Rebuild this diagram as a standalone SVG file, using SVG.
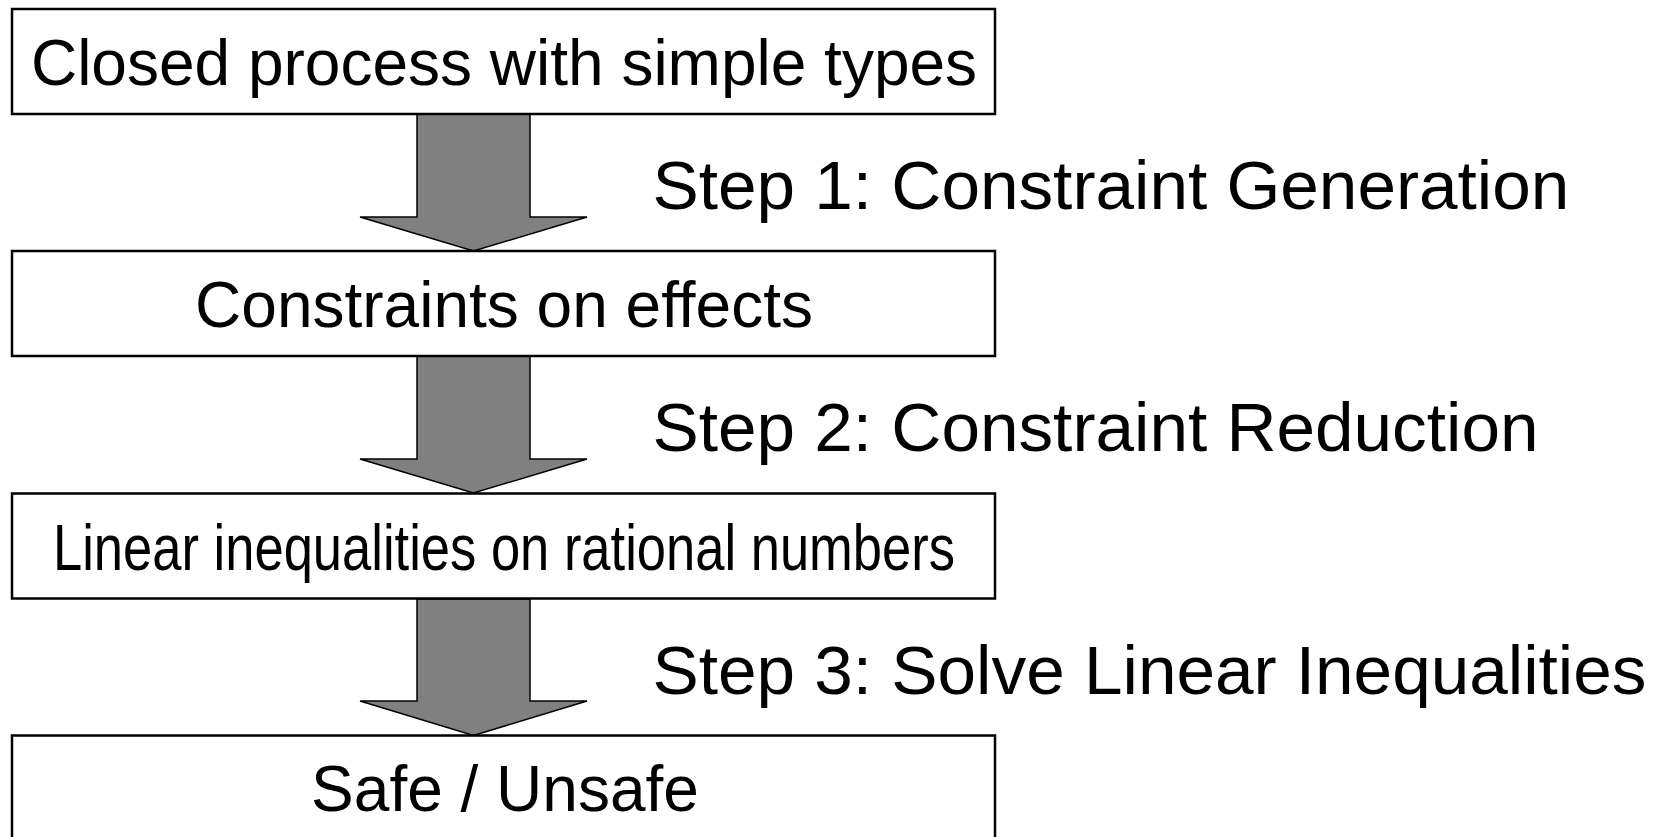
<svg xmlns="http://www.w3.org/2000/svg" width="1658" height="837" viewBox="0 0 1658 837">
<style>
.box{fill:#fff;stroke:#000;stroke-width:2.5}
.arr{fill:#808080;stroke:#000;stroke-width:1.5;stroke-linejoin:miter}
.t{font-family:"Liberation Sans",Arial,sans-serif;font-size:64px;fill:#000;text-anchor:middle}
.s{font-family:"Liberation Sans",Arial,sans-serif;font-size:69.3px;fill:#000}
</style>
<rect width="1658" height="837" fill="#fff"/>
<g id="connectors">
<polygon class="arr" points="417,114 530,114 530,217 587,217 473.5,251 360,217 417,217"/>
<polygon class="arr" points="417,356 530,356 530,459 587,459 473.5,493 360,459 417,459"/>
<polygon class="arr" points="417,599 530,599 530,701 587,701 473.5,735.5 360,701 417,701"/>
</g>
<g id="node1">
<rect class="box" x="12" y="9" width="983" height="105"/>
<text class="t" x="504" y="84.5">Closed process with simple types</text>
</g>
<g id="node2">
<rect class="box" x="12" y="251" width="983" height="105"/>
<text class="t" x="504" y="326.5">Constraints on effects</text>
</g>
<g id="node3">
<rect class="box" x="12" y="493.5" width="983" height="105"/>
<text class="t" x="504" y="569.5" textLength="902" lengthAdjust="spacingAndGlyphs">Linear inequalities on rational numbers</text>
</g>
<g id="node4">
<rect class="box" x="12" y="735.5" width="983" height="110"/>
<text class="t" x="505" y="811">Safe / Unsafe</text>
</g>
<g id="labels">
<text class="s" x="652.5" y="209">Step 1: Constraint Generation</text>
<text class="s" x="652.5" y="451">Step 2: Constraint Reduction</text>
<text class="s" x="652.5" y="694">Step 3: Solve Linear Inequalities</text>
</g>
</svg>
